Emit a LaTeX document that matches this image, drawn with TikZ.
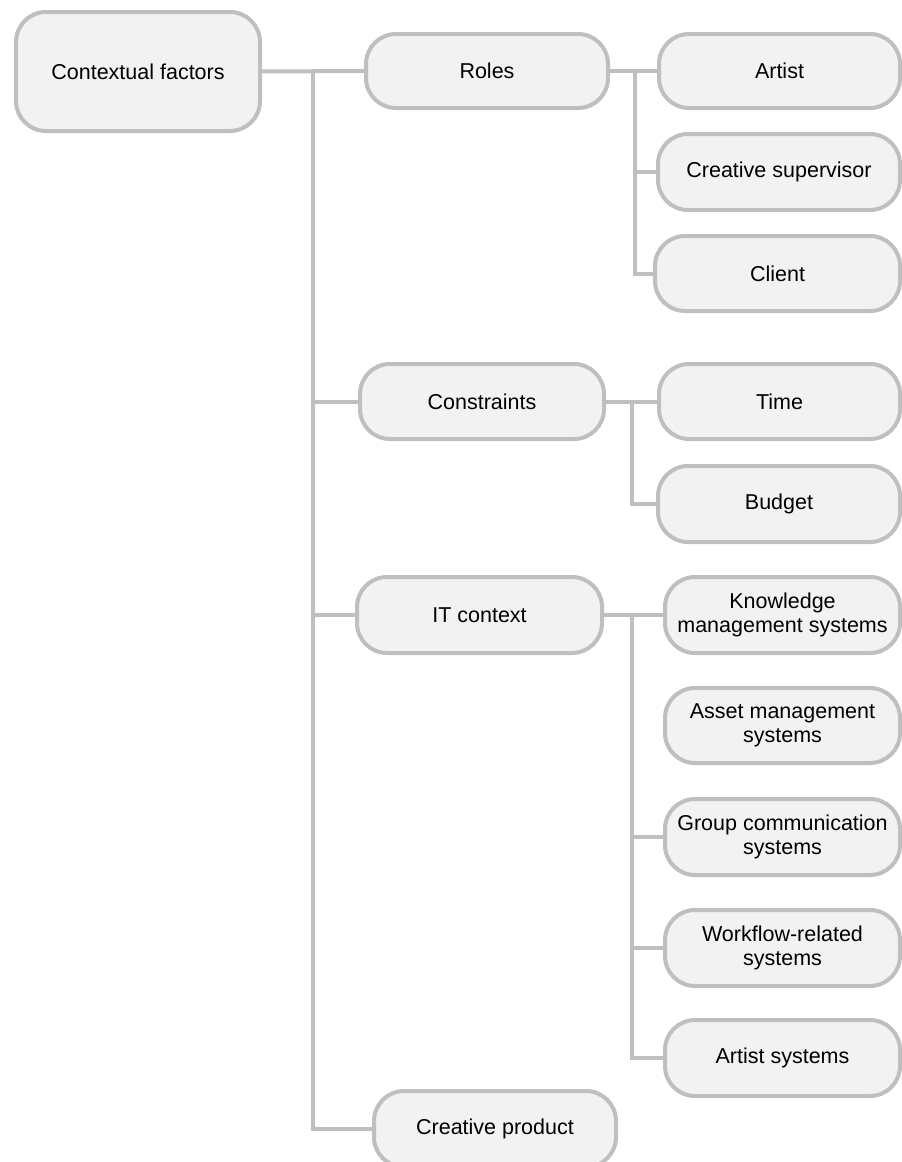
\documentclass[tikz,border=0pt]{standalone}
\usepackage{fontspec}
\setmainfont{Liberation Sans}
\begin{document}
\begin{tikzpicture}[x=1pt,y=-1pt,
  linegray/.style={draw={rgb,255:red,191;green,191;blue,191}},
  box/.style={linegray, fill={rgb,255:red,242;green,242;blue,242}, line width=4pt,
    rounded corners=30pt, align=center, inner sep=0pt,
    font=\fontsize{21.5}{24}\selectfont},
  link/.style={linegray, line width=4pt}]
\useasboundingbox (0,0) rectangle (902,1162);
\begin{scope}
\clip (0,0) rectangle (902,1162);
% level 0 and level 1
\node[box, minimum width=244, minimum height=119] (cf) at (138,71.5) {Contextual factors};
\node[box, minimum width=242, minimum height=74] (roles) at (487,71) {Roles};
\node[box, minimum width=244, minimum height=75] (constr) at (482,401.5) {Constraints};
\node[box, minimum width=245, minimum height=76] (it) at (479.5,615) {IT context};
\node[box, minimum width=242, minimum height=76] (cprod) at (495,1129) {Creative product};
% roles
\node[box, minimum width=241, minimum height=74] (artist) at (779.5,71) {Artist};
\node[box, minimum width=242, minimum height=76] (csup) at (779,172) {Creative supervisor};
\node[box, minimum width=245, minimum height=75] (client) at (777.5,273.5) {Client};
% constraints
\node[box, minimum width=241, minimum height=75] (time) at (779.5,401.5) {Time};
\node[box, minimum width=242, minimum height=76] (budget) at (779,504) {Budget};
% IT context
\node[box, minimum width=235, minimum height=76] (kms) at (782.5,615) {Knowledge\\management systems};
\node[box, minimum width=235, minimum height=75] (ams) at (782.5,725.5) {Asset management\\systems};
\node[box, minimum width=235, minimum height=76] (gcs) at (782.5,837) {Group communication\\systems};
\node[box, minimum width=235, minimum height=76] (wrs) at (782.5,948) {Workflow-related\\systems};
\node[box, minimum width=235, minimum height=76] (arts) at (782.5,1058) {Artist systems};
\end{scope}
% trunk positions
\coordinate (t0) at (313,0);
\coordinate (t1) at (635,0);
\coordinate (t2) at (632,0);
\coordinate (t3) at (632,0);
% main tree
\draw[link] (cf.east) -- (roles.west);
\draw[link] (t0 |- cf.east) |- (cprod.west);
\draw[link] (t0 |- constr.west) -- (constr.west);
\draw[link] (t0 |- it.west) -- (it.west);
% roles branch
\draw[link] (roles.east) -- (artist.west);
\draw[link] (t1 |- roles.east) |- (client.west);
\draw[link] (t1 |- csup.west) -- (csup.west);
% constraints branch
\draw[link] (constr.east) -- (time.west);
\draw[link] (t2 |- constr.east) |- (budget.west);
% IT context branch
\draw[link] (it.east) -- (kms.west);
\draw[link] (t3 |- it.east) |- (arts.west);
\draw[link] (t3 |- gcs.west) -- (gcs.west);
\draw[link] (t3 |- wrs.west) -- (wrs.west);
\end{tikzpicture}
\end{document}
